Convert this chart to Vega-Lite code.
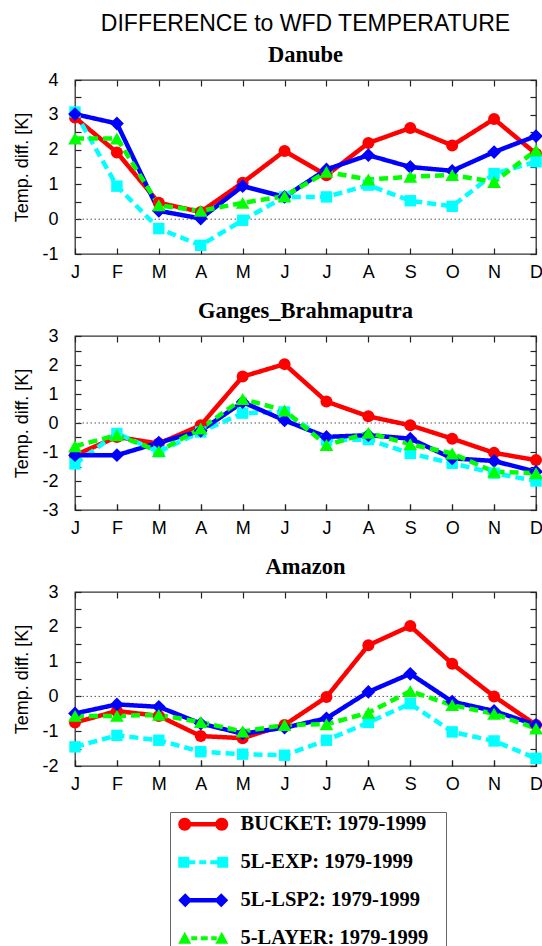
{
  "$schema": "https://vega.github.io/schema/vega-lite/v6.json",
  "padding": {"left": 13, "top": 12, "right": 5, "bottom": 5},
  "title": {"text": "DIFFERENCE to WFD TEMPERATURE", "font": "Liberation Sans", "fontSize": 23, "fontWeight": "normal", "color": "black", "anchor": "middle", "baseline": "alphabetic", "offset": -11},
  "data": {"values": [
    {"river": "Danube", "month": 1, "BUCKET": 2.92, "5L-EXP": 3.08, "5L-LSP2": 3.02, "5-LAYER": 2.32},
    {"river": "Danube", "month": 2, "BUCKET": 1.92, "5L-EXP": 0.95, "5L-LSP2": 2.75, "5-LAYER": 2.32},
    {"river": "Danube", "month": 3, "BUCKET": 0.47, "5L-EXP": -0.27, "5L-LSP2": 0.24, "5-LAYER": 0.40},
    {"river": "Danube", "month": 4, "BUCKET": 0.21, "5L-EXP": -0.75, "5L-LSP2": 0.02, "5-LAYER": 0.24},
    {"river": "Danube", "month": 5, "BUCKET": 1.05, "5L-EXP": -0.03, "5L-LSP2": 0.95, "5-LAYER": 0.47},
    {"river": "Danube", "month": 6, "BUCKET": 1.96, "5L-EXP": 0.64, "5L-LSP2": 0.64, "5-LAYER": 0.66},
    {"river": "Danube", "month": 7, "BUCKET": 1.26, "5L-EXP": 0.64, "5L-LSP2": 1.43, "5-LAYER": 1.36},
    {"river": "Danube", "month": 8, "BUCKET": 2.19, "5L-EXP": 0.98, "5L-LSP2": 1.84, "5-LAYER": 1.14},
    {"river": "Danube", "month": 9, "BUCKET": 2.62, "5L-EXP": 0.53, "5L-LSP2": 1.50, "5-LAYER": 1.22},
    {"river": "Danube", "month": 10, "BUCKET": 2.12, "5L-EXP": 0.37, "5L-LSP2": 1.39, "5-LAYER": 1.27},
    {"river": "Danube", "month": 11, "BUCKET": 2.88, "5L-EXP": 1.31, "5L-LSP2": 1.93, "5-LAYER": 1.07},
    {"river": "Danube", "month": 12, "BUCKET": 1.88, "5L-EXP": 1.65, "5L-LSP2": 2.39, "5-LAYER": 1.98},
    {"river": "Ganges_Brahmaputra", "month": 1, "BUCKET": -1.11, "5L-EXP": -1.41, "5L-LSP2": -1.11, "5-LAYER": -0.80},
    {"river": "Ganges_Brahmaputra", "month": 2, "BUCKET": -0.48, "5L-EXP": -0.36, "5L-LSP2": -1.11, "5-LAYER": -0.42},
    {"river": "Ganges_Brahmaputra", "month": 3, "BUCKET": -0.71, "5L-EXP": -0.99, "5L-LSP2": -0.68, "5-LAYER": -0.97},
    {"river": "Ganges_Brahmaputra", "month": 4, "BUCKET": -0.08, "5L-EXP": -0.31, "5L-LSP2": -0.27, "5-LAYER": -0.19},
    {"river": "Ganges_Brahmaputra", "month": 5, "BUCKET": 1.60, "5L-EXP": 0.34, "5L-LSP2": 0.72, "5-LAYER": 0.83},
    {"river": "Ganges_Brahmaputra", "month": 6, "BUCKET": 2.03, "5L-EXP": 0.38, "5L-LSP2": 0.09, "5-LAYER": 0.43},
    {"river": "Ganges_Brahmaputra", "month": 7, "BUCKET": 0.74, "5L-EXP": -0.59, "5L-LSP2": -0.48, "5-LAYER": -0.76},
    {"river": "Ganges_Brahmaputra", "month": 8, "BUCKET": 0.23, "5L-EXP": -0.57, "5L-LSP2": -0.42, "5-LAYER": -0.34},
    {"river": "Ganges_Brahmaputra", "month": 9, "BUCKET": -0.08, "5L-EXP": -1.05, "5L-LSP2": -0.54, "5-LAYER": -0.73},
    {"river": "Ganges_Brahmaputra", "month": 10, "BUCKET": -0.54, "5L-EXP": -1.39, "5L-LSP2": -1.22, "5-LAYER": -1.05},
    {"river": "Ganges_Brahmaputra", "month": 11, "BUCKET": -1.03, "5L-EXP": -1.73, "5L-LSP2": -1.31, "5-LAYER": -1.68},
    {"river": "Ganges_Brahmaputra", "month": 12, "BUCKET": -1.28, "5L-EXP": -2.0, "5L-LSP2": -1.68, "5-LAYER": -1.73},
    {"river": "Amazon", "month": 1, "BUCKET": -0.75, "5L-EXP": -1.45, "5L-LSP2": -0.49, "5-LAYER": -0.56},
    {"river": "Amazon", "month": 2, "BUCKET": -0.42, "5L-EXP": -1.12, "5L-LSP2": -0.23, "5-LAYER": -0.56},
    {"river": "Amazon", "month": 3, "BUCKET": -0.56, "5L-EXP": -1.26, "5L-LSP2": -0.30, "5-LAYER": -0.53},
    {"river": "Amazon", "month": 4, "BUCKET": -1.14, "5L-EXP": -1.59, "5L-LSP2": -0.78, "5-LAYER": -0.74},
    {"river": "Amazon", "month": 5, "BUCKET": -1.20, "5L-EXP": -1.66, "5L-LSP2": -1.07, "5-LAYER": -1.01},
    {"river": "Amazon", "month": 6, "BUCKET": -0.82, "5L-EXP": -1.69, "5L-LSP2": -0.90, "5-LAYER": -0.82},
    {"river": "Amazon", "month": 7, "BUCKET": -0.02, "5L-EXP": -1.26, "5L-LSP2": -0.63, "5-LAYER": -0.80},
    {"river": "Amazon", "month": 8, "BUCKET": 1.47, "5L-EXP": -0.75, "5L-LSP2": 0.13, "5-LAYER": -0.47},
    {"river": "Amazon", "month": 9, "BUCKET": 2.02, "5L-EXP": -0.21, "5L-LSP2": 0.65, "5-LAYER": 0.15},
    {"river": "Amazon", "month": 10, "BUCKET": 0.94, "5L-EXP": -1.02, "5L-LSP2": -0.15, "5-LAYER": -0.25},
    {"river": "Amazon", "month": 11, "BUCKET": 0.00, "5L-EXP": -1.28, "5L-LSP2": -0.42, "5-LAYER": -0.50},
    {"river": "Amazon", "month": 12, "BUCKET": -0.82, "5L-EXP": -1.78, "5L-LSP2": -0.82, "5-LAYER": -0.92}
  ]},
  "transform": [{"fold": ["BUCKET", "5L-EXP", "5L-LSP2", "5-LAYER"], "as": ["model", "value"]}],
  "spacing": 16,
  "vconcat": [
    {
      "title": {"text": "Danube"},
      "width": 461, "height": 174,
      "transform": [{"filter": "datum.river === 'Danube'"}],
      "resolve": {"axis": {"x": "independent", "y": "independent"}},
      "layer": [
        {"mark": {"type": "point", "filled": true, "opacity": 0},
         "encoding": {
           "x": {"field": "month", "type": "quantitative", "axis": null},
           "y": {"field": "value", "type": "quantitative", "axis": null},
           "color": {"field": "model", "type": "nominal",
             "scale": {"domain": ["BUCKET", "5L-EXP", "5L-LSP2", "5-LAYER"], "range": ["#ff0000", "#00ffff", "#0000ff", "#00ff00"]},
             "legend": {"title": null, "orient": "none", "legendX": 95, "legendY": 732, "direction": "vertical", "labelExpr": "datum.label + ': 1979-1999\u00a0\u00a0\u00a0\u200b'", "symbolOpacity": 1, "symbolStrokeWidth": 0, "symbolSize": 400, "labelOffset": 48, "rowPadding": 17, "padding": 2, "strokeColor": "#666", "fillColor": "white", "labelFont": "Liberation Serif", "labelFontSize": 20.5, "labelFontWeight": "bold", "labelColor": "black", "labelLimit": 400}},
           "shape": {"field": "model", "type": "nominal",
             "scale": {"domain": ["BUCKET", "5L-EXP", "5L-LSP2", "5-LAYER"], "range": [
               "M0.25,-0.22H3.95V0.22H0.25Z M-0.4,0A0.65,0.65 0 1,1 0.9,0A0.65,0.65 0 1,1 -0.4,0Z M3.3,0A0.65,0.65 0 1,1 4.6,0A0.65,0.65 0 1,1 3.3,0Z",
               "M-0.4,-0.55H0.7V0.55H-0.4Z M3.5,-0.55H4.6V0.55H3.5Z M0.7,-0.2H1.3V0.2H0.7Z M1.7,-0.2H2.4V0.2H1.7Z M2.8,-0.2H3.5V0.2H2.8Z",
               "M0.3,-0.22H3.9V0.22H0.3Z M-0.4,0L0.3,-0.7L1,0L0.3,0.7Z M3.2,0L3.9,-0.7L4.6,0L3.9,0.7Z",
               "M-0.4,0.55L0.25,-0.65L0.9,0.55Z M3.3,0.55L3.95,-0.65L4.6,0.55Z M0.9,-0.2H1.5V0.2H0.9Z M1.85,-0.2H2.55V0.2H1.85Z M2.9,-0.2H3.45V0.2H2.9Z"
             ]},
             "legend": {"title": null, "orient": "none", "legendX": 95, "legendY": 732, "direction": "vertical", "labelExpr": "datum.label + ': 1979-1999\u00a0\u00a0\u00a0\u200b'", "symbolOpacity": 1, "symbolStrokeWidth": 0, "symbolSize": 400, "labelOffset": 48, "rowPadding": 17, "padding": 2, "strokeColor": "#666", "fillColor": "white", "labelFont": "Liberation Serif", "labelFontSize": 20.5, "labelFontWeight": "bold", "labelColor": "black", "labelLimit": 400}}
         }},
        {"transform": [{"filter": "datum.month === 1 && datum.model === 'BUCKET'"}],
         "mark": {"type": "rule", "color": "#555", "strokeWidth": 1, "strokeDash": [1.5, 2.5]},
         "encoding": {"y": {"datum": 0, "type": "quantitative", "scale": {"domain": [-1, 4], "nice": false, "zero": false}, "axis": null}}},
        {"mark": {"type": "line", "strokeWidth": 4.5},
         "encoding": {
           "x": {"field": "month", "type": "quantitative", "scale": {"domain": [1, 12], "nice": false, "zero": false}, "axis": {"orient": "top", "values": [1,2,3,4,5,6,7,8,9,10,11,12], "labels": false, "title": null}},
           "y": {"field": "value", "type": "quantitative", "scale": {"domain": [-1, 4], "nice": false, "zero": false}, "axis": {"orient": "right", "values": [-1,-0.5,0,0.5,1,1.5,2,2.5,3,3.5,4], "labels": false, "title": null}},
           "color": {"field": "model", "type": "nominal"},
           "strokeDash": {"field": "model", "type": "nominal", "scale": {"range": [[9, 5], [9, 5], [1, 0], [1, 0]]}, "legend": null}
         }},
        {"transform": [{"filter": "datum.model === 'BUCKET'"}],
         "mark": {"type": "point", "filled": true, "opacity": 1, "shape": "circle", "size": 144},
         "encoding": {
           "x": {"field": "month", "type": "quantitative", "axis": {"orient": "bottom", "values": [1,2,3,4,5,6,7,8,9,10,11,12], "labelExpr": "['J','F','M','A','M','J','J','A','S','O','N','D'][datum.value - 1]", "title": null}},
           "y": {"field": "value", "type": "quantitative", "axis": {"orient": "left", "values": [-1,-0.5,0,0.5,1,1.5,2,2.5,3,3.5,4], "labelExpr": "datum.value % 1 === 0 ? '' + datum.value : ''", "title": "Temp. diff. [K]"}},
           "color": {"field": "model", "type": "nominal"}
         }},
        {"transform": [{"filter": "datum.model === '5L-EXP'"}],
         "mark": {"type": "point", "filled": true, "opacity": 1, "shape": "square", "size": 130},
         "encoding": {"x": {"field": "month", "type": "quantitative", "axis": null}, "y": {"field": "value", "type": "quantitative", "axis": null}, "color": {"field": "model", "type": "nominal"}}},
        {"transform": [{"filter": "datum.model === '5L-LSP2'"}],
         "mark": {"type": "point", "filled": true, "opacity": 1, "shape": "diamond", "size": 190},
         "encoding": {"x": {"field": "month", "type": "quantitative", "axis": null}, "y": {"field": "value", "type": "quantitative", "axis": null}, "color": {"field": "model", "type": "nominal"}}},
        {"transform": [{"filter": "datum.model === '5-LAYER'"}],
         "mark": {"type": "point", "filled": true, "opacity": 1, "shape": "triangle-up", "size": 190},
         "encoding": {"x": {"field": "month", "type": "quantitative", "axis": null}, "y": {"field": "value", "type": "quantitative", "axis": null}, "color": {"field": "model", "type": "nominal"}}}
      ]
    },
    {
      "title": {"text": "Ganges_Brahmaputra"},
      "width": 461, "height": 174,
      "transform": [{"filter": "datum.river === 'Ganges_Brahmaputra'"}],
      "resolve": {"axis": {"x": "independent", "y": "independent"}},
      "layer": [
        {"transform": [{"filter": "datum.month === 1 && datum.model === 'BUCKET'"}],
         "mark": {"type": "rule", "color": "#555", "strokeWidth": 1, "strokeDash": [1.5, 2.5]},
         "encoding": {"y": {"datum": 0, "type": "quantitative", "scale": {"domain": [-3, 3], "nice": false, "zero": false}, "axis": null}}},
        {"mark": {"type": "line", "strokeWidth": 4.5},
         "encoding": {
           "x": {"field": "month", "type": "quantitative", "scale": {"domain": [1, 12], "nice": false, "zero": false}, "axis": {"orient": "top", "values": [1,2,3,4,5,6,7,8,9,10,11,12], "labels": false, "title": null}},
           "y": {"field": "value", "type": "quantitative", "scale": {"domain": [-3, 3], "nice": false, "zero": false}, "axis": {"orient": "right", "values": [-3,-2.5,-2,-1.5,-1,-0.5,0,0.5,1,1.5,2,2.5,3], "labels": false, "title": null}},
           "color": {"field": "model", "type": "nominal"},
           "strokeDash": {"field": "model", "type": "nominal", "legend": null}
         }},
        {"transform": [{"filter": "datum.model === 'BUCKET'"}],
         "mark": {"type": "point", "filled": true, "opacity": 1, "shape": "circle", "size": 144},
         "encoding": {
           "x": {"field": "month", "type": "quantitative", "axis": {"orient": "bottom", "values": [1,2,3,4,5,6,7,8,9,10,11,12], "labelExpr": "['J','F','M','A','M','J','J','A','S','O','N','D'][datum.value - 1]", "title": null}},
           "y": {"field": "value", "type": "quantitative", "axis": {"orient": "left", "values": [-3,-2.5,-2,-1.5,-1,-0.5,0,0.5,1,1.5,2,2.5,3], "labelExpr": "datum.value % 1 === 0 ? '' + datum.value : ''", "title": "Temp. diff. [K]"}},
           "color": {"field": "model", "type": "nominal"}
         }},
        {"transform": [{"filter": "datum.model === '5L-EXP'"}],
         "mark": {"type": "point", "filled": true, "opacity": 1, "shape": "square", "size": 130},
         "encoding": {"x": {"field": "month", "type": "quantitative", "axis": null}, "y": {"field": "value", "type": "quantitative", "axis": null}, "color": {"field": "model", "type": "nominal"}}},
        {"transform": [{"filter": "datum.model === '5L-LSP2'"}],
         "mark": {"type": "point", "filled": true, "opacity": 1, "shape": "diamond", "size": 190},
         "encoding": {"x": {"field": "month", "type": "quantitative", "axis": null}, "y": {"field": "value", "type": "quantitative", "axis": null}, "color": {"field": "model", "type": "nominal"}}},
        {"transform": [{"filter": "datum.model === '5-LAYER'"}],
         "mark": {"type": "point", "filled": true, "opacity": 1, "shape": "triangle-up", "size": 190},
         "encoding": {"x": {"field": "month", "type": "quantitative", "axis": null}, "y": {"field": "value", "type": "quantitative", "axis": null}, "color": {"field": "model", "type": "nominal"}}}
      ]
    },
    {
      "title": {"text": "Amazon"},
      "width": 461, "height": 174,
      "transform": [{"filter": "datum.river === 'Amazon'"}],
      "resolve": {"axis": {"x": "independent", "y": "independent"}},
      "layer": [
        {"transform": [{"filter": "datum.month === 1 && datum.model === 'BUCKET'"}],
         "mark": {"type": "rule", "color": "#555", "strokeWidth": 1, "strokeDash": [1.5, 2.5]},
         "encoding": {"y": {"datum": 0, "type": "quantitative", "scale": {"domain": [-2, 3], "nice": false, "zero": false}, "axis": null}}},
        {"mark": {"type": "line", "strokeWidth": 4.5},
         "encoding": {
           "x": {"field": "month", "type": "quantitative", "scale": {"domain": [1, 12], "nice": false, "zero": false}, "axis": {"orient": "top", "values": [1,2,3,4,5,6,7,8,9,10,11,12], "labels": false, "title": null}},
           "y": {"field": "value", "type": "quantitative", "scale": {"domain": [-2, 3], "nice": false, "zero": false}, "axis": {"orient": "right", "values": [-2,-1.5,-1,-0.5,0,0.5,1,1.5,2,2.5,3], "labels": false, "title": null}},
           "color": {"field": "model", "type": "nominal"},
           "strokeDash": {"field": "model", "type": "nominal", "legend": null}
         }},
        {"transform": [{"filter": "datum.model === 'BUCKET'"}],
         "mark": {"type": "point", "filled": true, "opacity": 1, "shape": "circle", "size": 144},
         "encoding": {
           "x": {"field": "month", "type": "quantitative", "axis": {"orient": "bottom", "values": [1,2,3,4,5,6,7,8,9,10,11,12], "labelExpr": "['J','F','M','A','M','J','J','A','S','O','N','D'][datum.value - 1]", "title": null}},
           "y": {"field": "value", "type": "quantitative", "axis": {"orient": "left", "values": [-2,-1.5,-1,-0.5,0,0.5,1,1.5,2,2.5,3], "labelExpr": "datum.value % 1 === 0 ? '' + datum.value : ''", "title": "Temp. diff. [K]"}},
           "color": {"field": "model", "type": "nominal"}
         }},
        {"transform": [{"filter": "datum.model === '5L-EXP'"}],
         "mark": {"type": "point", "filled": true, "opacity": 1, "shape": "square", "size": 130},
         "encoding": {"x": {"field": "month", "type": "quantitative", "axis": null}, "y": {"field": "value", "type": "quantitative", "axis": null}, "color": {"field": "model", "type": "nominal"}}},
        {"transform": [{"filter": "datum.model === '5L-LSP2'"}],
         "mark": {"type": "point", "filled": true, "opacity": 1, "shape": "diamond", "size": 190},
         "encoding": {"x": {"field": "month", "type": "quantitative", "axis": null}, "y": {"field": "value", "type": "quantitative", "axis": null}, "color": {"field": "model", "type": "nominal"}}},
        {"transform": [{"filter": "datum.model === '5-LAYER'"}],
         "mark": {"type": "point", "filled": true, "opacity": 1, "shape": "triangle-up", "size": 190},
         "encoding": {"x": {"field": "month", "type": "quantitative", "axis": null}, "y": {"field": "value", "type": "quantitative", "axis": null}, "color": {"field": "model", "type": "nominal"}}}
      ]
    }
  ],
  "config": {
    "view": {"stroke": "#333", "strokeWidth": 1.3, "fill": "transparent"},
    "title": {"font": "Liberation Serif", "fontSize": 22.5, "fontWeight": "bold", "color": "black", "anchor": "middle", "frame": "group", "baseline": "alphabetic", "offset": 5},
    "axis": {"domain": false, "zindex": 1, "grid": true, "gridColor": "#222", "gridOpacity": 1, "gridWidth": 1.2, "gridDash": [6, 2000], "ticks": true, "tickColor": "#222", "tickOpacity": 1, "tickSize": -6, "tickWidth": 1.2, "labelFont": "Liberation Sans", "labelFontSize": 18, "labelColor": "black", "titleFont": "Liberation Sans", "titleFontSize": 18, "titleFontWeight": "normal", "titleColor": "black", "labelFlush": false, "labelOverlap": false, "titlePadding": 10},
    "axisBottom": {"labelPadding": 15},
    "axisLeft": {"labelPadding": 23}
  }
}
